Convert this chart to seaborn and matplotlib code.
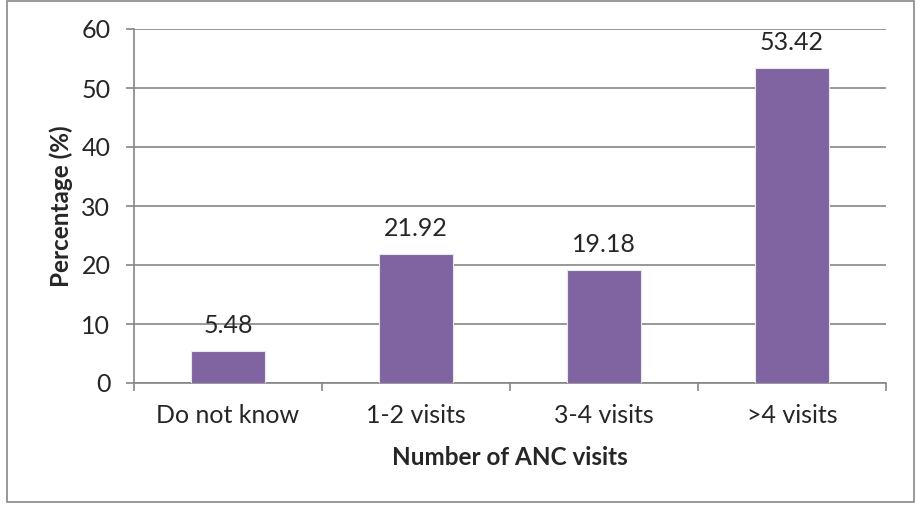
import matplotlib
matplotlib.use("Agg")
import matplotlib.pyplot as plt
import seaborn as sns
import pandas as pd
from matplotlib.patches import Rectangle

categories = ["Do not know", "1-2 visits", "3-4 visits", ">4 visits"]
values = [5.48, 21.92, 19.18, 53.42]
yticks = [0, 10, 20, 30, 40, 50, 60]

sns.set_style("white")
plt.rcParams['font.family'] = ['Lato', 'DejaVu Sans']

df = pd.DataFrame({"cat": categories, "val": values})

W, H = 917, 505
fig = plt.figure(figsize=(W / 100, H / 100), dpi=100)
ax = fig.add_axes([134 / W, 1 - 383 / H, (886 - 134) / W, (383 - 29) / H])

sns.barplot(data=df, x="cat", y="val", color="#8064A2", saturation=1, width=0.39,
            edgecolor="#e8e8e8", linewidth=0.8, ax=ax, zorder=3)

ax.set_ylim(0, 60)
ax.set_xlim(-0.5, 3.5)
ax.set_yticks(yticks)
ax.yaxis.grid(True, color="#868686", linewidth=1.2, zorder=0)
ax.set_axisbelow(True)
for s in ["top", "right"]:
    ax.spines[s].set_visible(False)
for s in ["left", "bottom"]:
    ax.spines[s].set_color("#868686")
    ax.spines[s].set_linewidth(1.2)

ax.tick_params(axis="y", length=6, width=1.2, color="#868686", labelsize=18, pad=11, left=True)
ax.tick_params(axis="x", which="major", length=0, labelsize=18, pad=15)
ax.set_xticks([-0.5, 0.5, 1.5, 2.5, 3.5], minor=True)
ax.tick_params(axis="x", which="minor", length=6, width=1.2, color="#868686", bottom=True)

for i, v in enumerate(values):
    ax.text(i, v + 2.3, f"{v:.2f}", ha="center", va="bottom", fontsize=18)

ax.set_xlabel("Number of ANC visits", fontsize=17.5, fontweight="bold", labelpad=14)
ax.set_ylabel("Percentage (%)", fontsize=17.5, fontweight="bold", labelpad=6)

fig.patches.append(Rectangle((7 / W, 3 / H), (914 - 7) / W, (H - 4) / H, transform=fig.transFigure,
                             fill=False, edgecolor="#888888", linewidth=1.2))

fig.savefig("out.png", dpi=100)
